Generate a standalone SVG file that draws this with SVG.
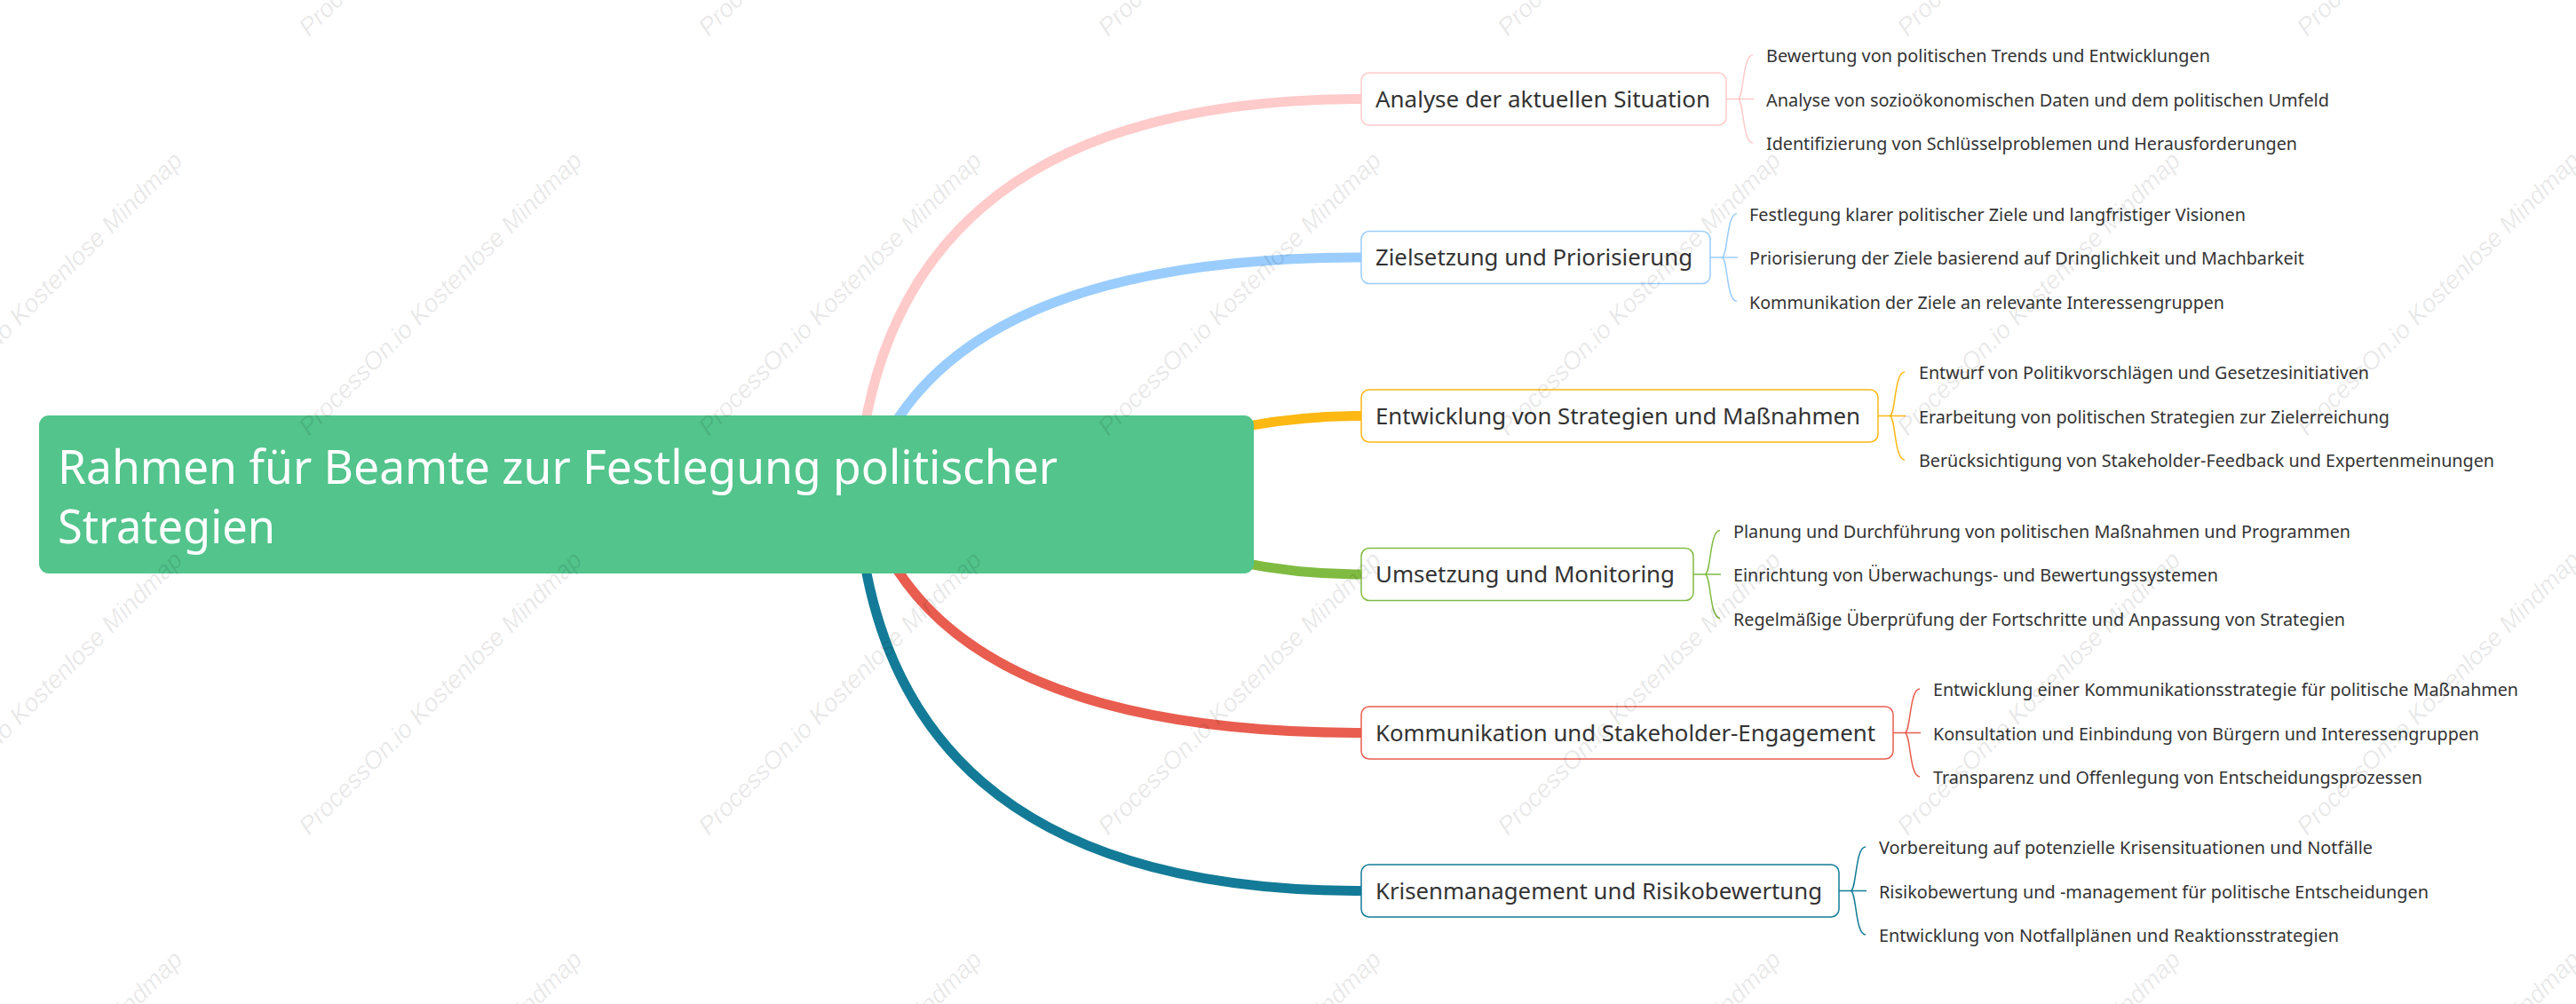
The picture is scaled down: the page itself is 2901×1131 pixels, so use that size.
<svg xmlns="http://www.w3.org/2000/svg" width="2901" height="1131" viewBox="0 0 2901 1131">
<style>
.conn{fill:none;stroke-width:11;stroke-linecap:butt}
.br{fill:none;stroke-width:1.5}
.box{fill:#fff;stroke-width:1.5}
.rt{font-family:"Noto Sans","Open Sans",sans-serif;font-size:53px;fill:#fff}
.bt{font-family:"Noto Sans","Open Sans",sans-serif;font-size:25px;fill:#333}
.lt{font-family:"Noto Sans","Open Sans",sans-serif;font-size:19px;fill:#333}
.wm{font-family:"Liberation Sans",Arial,sans-serif;font-style:italic;font-size:28px;fill:#000;fill-opacity:0.09}
.c1{stroke:#FFCACA}.c2{stroke:#9ACDFE}.c3{stroke:#FDB813}.c4{stroke:#80BB41}.c5{stroke:#E85D4F}.c6{stroke:#137B97}
</style>
<rect x="0" y="0" width="2901" height="1131" fill="#fff"/>

<g id="connectors">
<path class="conn c1" d="M964,600 Q964,111.5 1533,111.5"/>
<path class="conn c2" d="M964,600 Q1008.5,290 1533,290"/>
<path class="conn c3" d="M1200,557 Q1350,468.5 1533,468.5"/>
<path class="conn c4" d="M1200,557 Q1350,647 1533,647"/>
<path class="conn c5" d="M963.5,510 Q1005,825.5 1533,825.5"/>
<path class="conn c6" d="M964,514 Q964,1003.5 1533,1003.5"/>

<path class="br c1" d="M1944,111.5 H1975 M1957,111.5 C1964,111.5 1962,62 1974,62 M1957,111.5 C1964,111.5 1962,161 1974,161"/>
<path class="br c2" d="M1926,290 H1957 M1939,290 C1946,290 1944,240.5 1956,240.5 M1939,290 C1946,290 1944,339.5 1956,339.5"/>
<path class="br c3" d="M2115,468.5 H2146 M2128,468.5 C2135,468.5 2133,419 2145,419 M2128,468.5 C2135,468.5 2133,518 2145,518"/>
<path class="br c4" d="M1907,647 H1938 M1920,647 C1927,647 1925,597.5 1937,597.5 M1920,647 C1927,647 1925,696.5 1937,696.5"/>
<path class="br c5" d="M2132,825.5 H2163 M2145,825.5 C2152,825.5 2150,776 2162,776 M2145,825.5 C2152,825.5 2150,875 2162,875"/>
<path class="br c6" d="M2071,1003.5 H2102 M2084,1003.5 C2091,1003.5 2089,954 2101,954 M2084,1003.5 C2091,1003.5 2089,1053 2101,1053"/>
</g>

<g id="root">
<rect x="44" y="468" width="1368" height="178" rx="11" fill="#52C48C"/>
<text class="rt" x="65" y="545" textLength="1126" lengthAdjust="spacingAndGlyphs">Rahmen für Beamte zur Festlegung politischer</text>
<text class="rt" x="65" y="612" textLength="245" lengthAdjust="spacingAndGlyphs">Strategien</text>
</g>

<g id="analyse">
<rect class="box c1" x="1533" y="82" width="411" height="59" rx="9"/>
<text class="bt" x="1549" y="120.5" textLength="377" lengthAdjust="spacingAndGlyphs">Analyse der aktuellen Situation</text>
<text class="lt" x="1989" y="70" textLength="500" lengthAdjust="spacingAndGlyphs">Bewertung von politischen Trends und Entwicklungen</text>
<text class="lt" x="1989" y="119.5" textLength="634" lengthAdjust="spacingAndGlyphs">Analyse von sozioökonomischen Daten und dem politischen Umfeld</text>
<text class="lt" x="1989" y="169" textLength="598" lengthAdjust="spacingAndGlyphs">Identifizierung von Schlüsselproblemen und Herausforderungen</text>
</g>

<g id="zielsetzung">
<rect class="box c2" x="1533" y="260.5" width="393" height="59" rx="9"/>
<text class="bt" x="1549" y="299" textLength="357" lengthAdjust="spacingAndGlyphs">Zielsetzung und Priorisierung</text>
<text class="lt" x="1970" y="248.5" textLength="559" lengthAdjust="spacingAndGlyphs">Festlegung klarer politischer Ziele und langfristiger Visionen</text>
<text class="lt" x="1970" y="298" textLength="625" lengthAdjust="spacingAndGlyphs">Priorisierung der Ziele basierend auf Dringlichkeit und Machbarkeit</text>
<text class="lt" x="1970" y="347.5" textLength="535" lengthAdjust="spacingAndGlyphs">Kommunikation der Ziele an relevante Interessengruppen</text>
</g>

<g id="entwicklung">
<rect class="box c3" x="1533" y="439" width="582" height="59" rx="9"/>
<text class="bt" x="1549" y="477.5" textLength="546" lengthAdjust="spacingAndGlyphs">Entwicklung von Strategien und Maßnahmen</text>
<text class="lt" x="2161" y="427" textLength="507" lengthAdjust="spacingAndGlyphs">Entwurf von Politikvorschlägen und Gesetzesinitiativen</text>
<text class="lt" x="2161" y="476.5" textLength="530" lengthAdjust="spacingAndGlyphs">Erarbeitung von politischen Strategien zur Zielerreichung</text>
<text class="lt" x="2161" y="526" textLength="648" lengthAdjust="spacingAndGlyphs">Berücksichtigung von Stakeholder-Feedback und Expertenmeinungen</text>
</g>

<g id="umsetzung">
<rect class="box c4" x="1533" y="617.5" width="374" height="59" rx="9"/>
<text class="bt" x="1549" y="656" textLength="337" lengthAdjust="spacingAndGlyphs">Umsetzung und Monitoring</text>
<text class="lt" x="1952" y="605.5" textLength="695" lengthAdjust="spacingAndGlyphs">Planung und Durchführung von politischen Maßnahmen und Programmen</text>
<text class="lt" x="1952" y="655" textLength="546" lengthAdjust="spacingAndGlyphs">Einrichtung von Überwachungs- und Bewertungssystemen</text>
<text class="lt" x="1952" y="704.5" textLength="689" lengthAdjust="spacingAndGlyphs">Regelmäßige Überprüfung der Fortschritte und Anpassung von Strategien</text>
</g>

<g id="kommunikation">
<rect class="box c5" x="1533" y="796" width="599" height="59" rx="9"/>
<text class="bt" x="1549" y="834.5" textLength="563" lengthAdjust="spacingAndGlyphs">Kommunikation und Stakeholder-Engagement</text>
<text class="lt" x="2177" y="784" textLength="659" lengthAdjust="spacingAndGlyphs">Entwicklung einer Kommunikationsstrategie für politische Maßnahmen</text>
<text class="lt" x="2177" y="833.5" textLength="615" lengthAdjust="spacingAndGlyphs">Konsultation und Einbindung von Bürgern und Interessengruppen</text>
<text class="lt" x="2177" y="883" textLength="551" lengthAdjust="spacingAndGlyphs">Transparenz und Offenlegung von Entscheidungsprozessen</text>
</g>

<g id="krisenmanagement">
<rect class="box c6" x="1533" y="974" width="538" height="59" rx="9"/>
<text class="bt" x="1549" y="1012.5" textLength="503" lengthAdjust="spacingAndGlyphs">Krisenmanagement und Risikobewertung</text>
<text class="lt" x="2116" y="962" textLength="556" lengthAdjust="spacingAndGlyphs">Vorbereitung auf potenzielle Krisensituationen und Notfälle</text>
<text class="lt" x="2116" y="1011.5" textLength="619" lengthAdjust="spacingAndGlyphs">Risikobewertung und -management für politische Entscheidungen</text>
<text class="lt" x="2116" y="1061" textLength="518" lengthAdjust="spacingAndGlyphs">Entwicklung von Notfallplänen und Reaktionsstrategien</text>
</g>

<g id="watermark">
<text class="wm" transform="translate(-102,42) rotate(-45)">ProcessOn.io Kostenlose Mindmap</text>
<text class="wm" transform="translate(348,42) rotate(-45)">ProcessOn.io Kostenlose Mindmap</text>
<text class="wm" transform="translate(798,42) rotate(-45)">ProcessOn.io Kostenlose Mindmap</text>
<text class="wm" transform="translate(1248,42) rotate(-45)">ProcessOn.io Kostenlose Mindmap</text>
<text class="wm" transform="translate(1698,42) rotate(-45)">ProcessOn.io Kostenlose Mindmap</text>
<text class="wm" transform="translate(2148,42) rotate(-45)">ProcessOn.io Kostenlose Mindmap</text>
<text class="wm" transform="translate(2598,42) rotate(-45)">ProcessOn.io Kostenlose Mindmap</text>
<text class="wm" transform="translate(-102,492) rotate(-45)">ProcessOn.io Kostenlose Mindmap</text>
<text class="wm" transform="translate(348,492) rotate(-45)">ProcessOn.io Kostenlose Mindmap</text>
<text class="wm" transform="translate(798,492) rotate(-45)">ProcessOn.io Kostenlose Mindmap</text>
<text class="wm" transform="translate(1248,492) rotate(-45)">ProcessOn.io Kostenlose Mindmap</text>
<text class="wm" transform="translate(1698,492) rotate(-45)">ProcessOn.io Kostenlose Mindmap</text>
<text class="wm" transform="translate(2148,492) rotate(-45)">ProcessOn.io Kostenlose Mindmap</text>
<text class="wm" transform="translate(2598,492) rotate(-45)">ProcessOn.io Kostenlose Mindmap</text>
<text class="wm" transform="translate(-102,942) rotate(-45)">ProcessOn.io Kostenlose Mindmap</text>
<text class="wm" transform="translate(348,942) rotate(-45)">ProcessOn.io Kostenlose Mindmap</text>
<text class="wm" transform="translate(798,942) rotate(-45)">ProcessOn.io Kostenlose Mindmap</text>
<text class="wm" transform="translate(1248,942) rotate(-45)">ProcessOn.io Kostenlose Mindmap</text>
<text class="wm" transform="translate(1698,942) rotate(-45)">ProcessOn.io Kostenlose Mindmap</text>
<text class="wm" transform="translate(2148,942) rotate(-45)">ProcessOn.io Kostenlose Mindmap</text>
<text class="wm" transform="translate(2598,942) rotate(-45)">ProcessOn.io Kostenlose Mindmap</text>
<text class="wm" transform="translate(-102,1392) rotate(-45)">ProcessOn.io Kostenlose Mindmap</text>
<text class="wm" transform="translate(348,1392) rotate(-45)">ProcessOn.io Kostenlose Mindmap</text>
<text class="wm" transform="translate(798,1392) rotate(-45)">ProcessOn.io Kostenlose Mindmap</text>
<text class="wm" transform="translate(1248,1392) rotate(-45)">ProcessOn.io Kostenlose Mindmap</text>
<text class="wm" transform="translate(1698,1392) rotate(-45)">ProcessOn.io Kostenlose Mindmap</text>
<text class="wm" transform="translate(2148,1392) rotate(-45)">ProcessOn.io Kostenlose Mindmap</text>
<text class="wm" transform="translate(2598,1392) rotate(-45)">ProcessOn.io Kostenlose Mindmap</text>
</g>
</svg>
